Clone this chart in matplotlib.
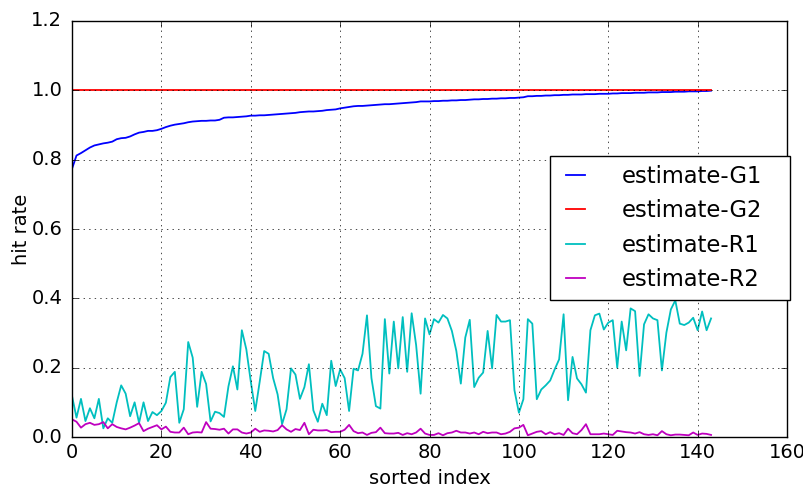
import matplotlib
matplotlib.use("Agg")
import matplotlib.pyplot as plt

# hit rate per sorted index
g1 = [0.774, 0.812, 0.819, 0.827, 0.835, 0.841, 0.844, 0.847, 0.849, 0.852, 0.859, 0.862,
      0.863, 0.867, 0.873, 0.878, 0.880, 0.883, 0.883, 0.885, 0.889, 0.894, 0.898, 0.901,
      0.903, 0.905, 0.908, 0.910, 0.911, 0.912, 0.912, 0.913, 0.913, 0.915, 0.921, 0.922,
      0.922, 0.923, 0.924, 0.925, 0.927, 0.927, 0.928, 0.928, 0.929, 0.930, 0.931, 0.932,
      0.933, 0.934, 0.935, 0.937, 0.938, 0.939, 0.939, 0.940, 0.941, 0.943, 0.944, 0.945,
      0.948, 0.950, 0.952, 0.954, 0.955, 0.955, 0.956, 0.957, 0.958, 0.959, 0.960, 0.960,
      0.961, 0.962, 0.963, 0.964, 0.965, 0.966, 0.968, 0.968, 0.968, 0.969, 0.969, 0.970,
      0.970, 0.971, 0.971, 0.972, 0.972, 0.973, 0.974, 0.974, 0.975, 0.975, 0.976, 0.976,
      0.977, 0.977, 0.978, 0.978, 0.979, 0.980, 0.983, 0.983, 0.984, 0.984, 0.985, 0.985,
      0.986, 0.986, 0.987, 0.987, 0.988, 0.988, 0.988, 0.989, 0.989, 0.989, 0.990, 0.990,
      0.990, 0.991, 0.991, 0.992, 0.992, 0.992, 0.993, 0.993, 0.993, 0.994, 0.994, 0.994,
      0.995, 0.995, 0.995, 0.996, 0.996, 0.996, 0.997, 0.997, 0.997, 0.998, 0.998, 0.999]

g2 = [1.0] * 144

r1 = [0.118, 0.056, 0.110, 0.046, 0.083, 0.054, 0.110, 0.025, 0.054, 0.041, 0.100, 0.149,
      0.125, 0.060, 0.100, 0.041, 0.100, 0.046, 0.072, 0.063, 0.075, 0.099, 0.173, 0.188,
      0.041, 0.080, 0.274, 0.229, 0.087, 0.188, 0.153, 0.045, 0.073, 0.069, 0.058, 0.146,
      0.204, 0.137, 0.308, 0.253, 0.160, 0.075, 0.160, 0.248, 0.240, 0.170, 0.123, 0.037,
      0.080, 0.198, 0.180, 0.110, 0.144, 0.210, 0.077, 0.044, 0.096, 0.063, 0.220, 0.147,
      0.195, 0.170, 0.075, 0.197, 0.192, 0.240, 0.351, 0.170, 0.089, 0.082, 0.340, 0.183,
      0.333, 0.198, 0.346, 0.188, 0.357, 0.265, 0.125, 0.342, 0.296, 0.340, 0.330, 0.352,
      0.342, 0.306, 0.248, 0.154, 0.287, 0.338, 0.144, 0.171, 0.186, 0.306, 0.198, 0.352,
      0.333, 0.333, 0.337, 0.135, 0.070, 0.109, 0.340, 0.327, 0.109, 0.137, 0.149, 0.163,
      0.195, 0.224, 0.354, 0.106, 0.231, 0.169, 0.152, 0.128, 0.308, 0.351, 0.356, 0.310,
      0.330, 0.337, 0.200, 0.333, 0.250, 0.371, 0.363, 0.176, 0.325, 0.354, 0.342, 0.337,
      0.192, 0.301, 0.368, 0.394, 0.327, 0.323, 0.330, 0.344, 0.308, 0.362, 0.308, 0.342]

r2 = [0.051, 0.044, 0.027, 0.037, 0.041, 0.035, 0.037, 0.043, 0.025, 0.037, 0.029, 0.025,
      0.022, 0.027, 0.033, 0.040, 0.017, 0.024, 0.029, 0.034, 0.022, 0.030, 0.015, 0.013,
      0.013, 0.027, 0.008, 0.013, 0.014, 0.013, 0.043, 0.024, 0.023, 0.021, 0.024, 0.010,
      0.022, 0.022, 0.013, 0.010, 0.013, 0.024, 0.015, 0.019, 0.018, 0.016, 0.020, 0.034,
      0.022, 0.015, 0.023, 0.020, 0.041, 0.008, 0.021, 0.019, 0.019, 0.020, 0.014, 0.015,
      0.015, 0.021, 0.035, 0.017, 0.011, 0.013, 0.006, 0.012, 0.014, 0.027, 0.011, 0.010,
      0.010, 0.012, 0.006, 0.011, 0.008, 0.013, 0.024, 0.010, 0.006, 0.006, 0.011, 0.005,
      0.011, 0.013, 0.018, 0.013, 0.013, 0.010, 0.013, 0.008, 0.015, 0.011, 0.013, 0.013,
      0.008, 0.010, 0.015, 0.025, 0.027, 0.035, 0.005, 0.010, 0.015, 0.017, 0.008, 0.014,
      0.008, 0.011, 0.006, 0.024, 0.011, 0.008, 0.020, 0.037, 0.008, 0.008, 0.008, 0.010,
      0.008, 0.006, 0.018, 0.016, 0.014, 0.013, 0.010, 0.014, 0.008, 0.006, 0.008, 0.005,
      0.017, 0.008, 0.005, 0.007, 0.007, 0.006, 0.005, 0.013, 0.006, 0.010, 0.009, 0.006]

labels = ["estimate-G1", "estimate-G2", "estimate-R1", "estimate-R2"]

plt.style.use("classic")
plt.rcParams["font.size"] = 14
fig = plt.figure(figsize=(8.04, 4.86), dpi=100, facecolor="white")
ax = fig.add_axes([0.0896, 0.1008, 0.8893, 0.856])

ax.plot(g1, "b", lw=1.3, label=labels[0])
ax.plot(g2, "r", lw=1.3, label=labels[1])
ax.plot(r1, "c", lw=1.3, label=labels[2])
ax.plot(r2, "m", lw=1.3, label=labels[3])

ax.set_xlim(0, 160)
ax.set_ylim(0, 1.2)
ax.grid(True)
ax.tick_params(axis="y", pad=7)
ax.set_xlabel("sorted index")
ax.set_ylabel("hit rate", labelpad=0)
ax.legend(loc="center", bbox_to_anchor=(0.6685, 0.5024, 0.335, 0.0), mode="expand",
          fontsize=16.3, handlelength=1.45, handletextpad=1.3, borderaxespad=0)

fig.savefig("out.png", dpi=100, facecolor="white")
